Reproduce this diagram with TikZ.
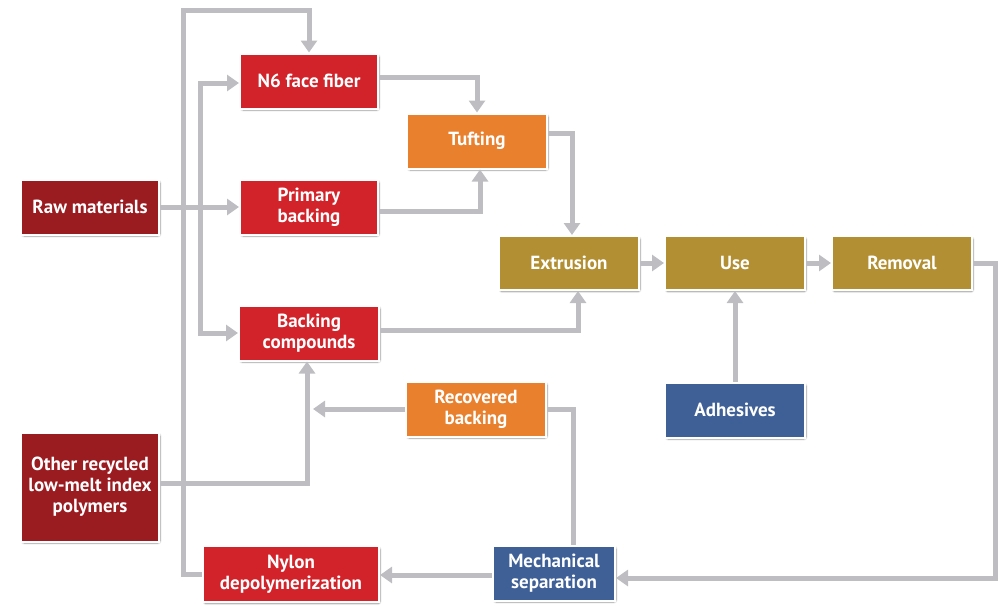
\documentclass[tikz,border=0pt]{standalone}
\usepackage{fontspec}
\setsansfont{PT Sans}
\usepackage{tikz}
\usetikzlibrary{arrows.meta, positioning, calc, shadows.blur}
\usepackage{xcolor}

\definecolor{rohrot}{HTML}{9A1B20}
\definecolor{hellrot}{HTML}{D2232A}
\definecolor{orange}{HTML}{E8802E}
\definecolor{gold}{HTML}{B28F33}
\definecolor{blau}{HTML}{3E6097}
\definecolor{linie}{HTML}{BEBEC2}

\tikzset{>=Latex}
\tikzset{
  kasten/.style={draw=white, line width=2pt, text=white, align=center,
    font=\sffamily\bfseries\fontsize{19}{21}\selectfont,
    minimum width=138pt, minimum height=55pt, inner sep=2pt,
    blur shadow={shadow xshift=1pt, shadow yshift=-1.5pt, shadow blur steps=6, shadow blur extra rounding=2pt, shadow opacity=45}},
  fluss/.style={draw=linie, line width=5pt, -{Triangle[length=12pt, width=16pt]}},
  verbindung/.style={draw=linie, line width=5pt}
}

\begin{document}
\begin{tikzpicture}[x=1pt, y=-1pt]

            \useasboundingbox (0,0) rectangle (1003,605);

            % Rohstoffe links
            \node[kasten, fill=rohrot] (raw) at (90,207) {Raw materials};
            \node[kasten, fill=rohrot, minimum height=109pt] (other) at (90,487) {Other recycled\\low-melt index\\polymers};

            % rote Kaesten
            \node[kasten, fill=hellrot] (n6) at (309,81) {N6 face fiber};
            \node[kasten, fill=hellrot] (prim) at (309,207) {Primary\\backing};
            \node[kasten, fill=hellrot, minimum width=140pt] (bcomp) at (309,333) {Backing\\compounds};
            \node[kasten, fill=hellrot, minimum width=176pt, minimum height=56pt] (nylon) at (291,574) {Nylon\\depolymerization};

            % orange Kaesten
            \node[kasten, fill=orange, minimum width=140pt] (tuft) at (477,141) {Tufting};
            \node[kasten, fill=orange, minimum width=140pt] (recov) at (476,409) {Recovered\\backing};

            % goldene Kette
            \node[kasten, fill=gold, minimum width=140pt, minimum height=54pt] (extr) at (569,263) {Extrusion};
            \node[kasten, fill=gold, minimum width=140pt, minimum height=54pt] (use) at (735,263) {Use};
            \node[kasten, fill=gold, minimum width=140pt, minimum height=54pt] (remov) at (902,263) {Removal};

            % blaue Kaesten
            \node[kasten, fill=blau, minimum width=140pt] (adh) at (735,410) {Adhesives};
            \node[kasten, fill=blau, minimum width=122pt] (mech) at (554,573) {Mechanical\\separation};

            % Hilfspunkte
            \coordinate (looptop) at (183,10);
            \coordinate (rawsplit) at (200,207);
            \coordinate (rside) at (995,263);
            \coordinate (bjoin) at (313,409);

            % Rueckfuehrung Nylon
            \draw[fluss] (nylon.west) -| (looptop) -| (n6.north);

            % Rohstoffe verteilen
            \draw[fluss] (raw.east) -- (prim.west);
            \draw[fluss] (rawsplit) |- ([yshift=-2pt]n6.west);
            \draw[fluss] (rawsplit) |- (bcomp.west);

            % zum Tufting
            \draw[fluss] ([yshift=4pt]n6.east) -| (tuft.north);
            \draw[fluss] ([yshift=-4pt]prim.east) -| ([xshift=3pt]tuft.south);

            % zur Extrusion
            \draw[fluss] ([yshift=8pt]tuft.east) -| ([xshift=3pt]extr.north);
            \draw[fluss] ([yshift=3pt]bcomp.east) -| ([xshift=9pt]extr.south);

            % Kette
            \draw[fluss] (extr) -- (use);
            \draw[fluss] (use) -- (remov);
            \draw[fluss] (adh) -- (use);

            % Entfernung zur Trennung
            \draw[fluss] (remov.east) -- (rside) |- ([yshift=-5pt]mech.east);
            \draw[fluss] ([yshift=-2pt]mech.west) -- ([yshift=-1pt]nylon.east);
            \draw[verbindung] ([xshift=19pt]mech.north) |- (recov.east);

            % Ruecklauf Backing
            \draw[fluss] (recov.west) -- (bjoin);
            \draw[fluss] ([yshift=4pt]other.east) -| ([xshift=-2pt]bcomp.south);

\end{tikzpicture}
\end{document}
